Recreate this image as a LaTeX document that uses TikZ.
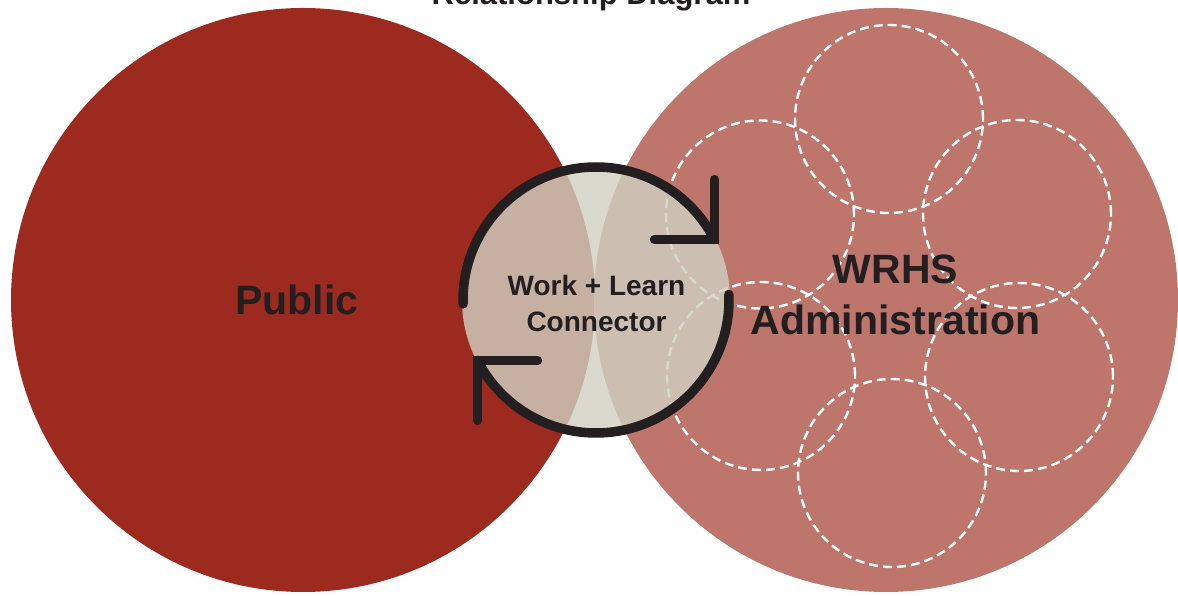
\documentclass[tikz,border=0pt]{standalone}
\usepackage{fontspec}
\setmainfont{Liberation Sans}
\usetikzlibrary{calc}
\definecolor{pubred}{HTML}{9C2A1E}
\definecolor{admred}{HTML}{BE756B}
\definecolor{conncol}{HTML}{D0D0C1}
\definecolor{ink}{HTML}{231F20}
\begin{document}
\begin{tikzpicture}[x=1pt,y=1pt,
  bigcircle/.style={circle, inner sep=0pt, outer sep=0pt, minimum size=584pt},
  subunit/.style={circle, draw=white, line width=2.4pt, dash pattern=on 9pt off 5pt, minimum size=188pt, inner sep=0pt, outer sep=0pt},
  ring/.style={draw=ink, line width=9.5pt, line cap=round, line join=miter},
  biglbl/.style={font=\bfseries\fontsize{41}{49}\selectfont, text=ink, inner sep=0pt, anchor=base},
  midlbl/.style={font=\bfseries\fontsize{28}{34}\selectfont, text=ink, inner sep=0pt, anchor=base}
]
\useasboundingbox (0,0) rectangle (1178,596);
% title (cut off at the top edge, as in the reference)
\node[font=\bfseries\fontsize{31}{37}\selectfont, text=ink, inner sep=0pt, anchor=base] (title) at (591,591.5) {Relationship Diagram};
% the two large circles
\node[bigcircle, fill=pubred] (public) at (303,296) {};
\node[bigcircle, fill=admred] (admin) at (886,296) {};
% dashed sub-units in the administration circle
\node[subunit] (s1) at (889,477) {};
\node[subunit] (s2) at (760,381.5) {};
\node[subunit] (s3) at (1017,382) {};
\node[subunit] (s4) at (761,220) {};
\node[subunit] (s5) at (1019,219) {};
\node[subunit] (s6) at (892,123) {};
% connector circle (semi-transparent)
\node[circle, fill=conncol, fill opacity=0.81, minimum size=268pt, inner sep=0pt, outer sep=0pt] (conn) at (596,296) {};
% cycle arrows
\draw[ring] ([shift={(181.7:133)}]conn.center) arc[start angle=181.7, end angle=27, radius=133];
\draw[ring] ([shift={(27:133)}]conn.center) ++(0,60) -- ++(0,-60) -- ++(-60,0);
\draw[ring] ([shift={(2.4:133)}]conn.center) arc[start angle=2.4, end angle=-153, radius=133];
\draw[ring] ([shift={(207:133)}]conn.center) ++(0,-60) -- ++(0,60) -- ++(60,0);
% labels
\node[biglbl] (publbl) at (297,281) {Public};
\node[biglbl] (admlbl1) at (895.5,312) {WRHS};
\node[biglbl] (admlbl2) at (895.5,261) {Administration};
\node[midlbl] (connlbl1) at (596.5,300) {Work + Learn};
\node[midlbl] (connlbl2) at (596.5,264) {Connector};
\end{tikzpicture}
\end{document}
